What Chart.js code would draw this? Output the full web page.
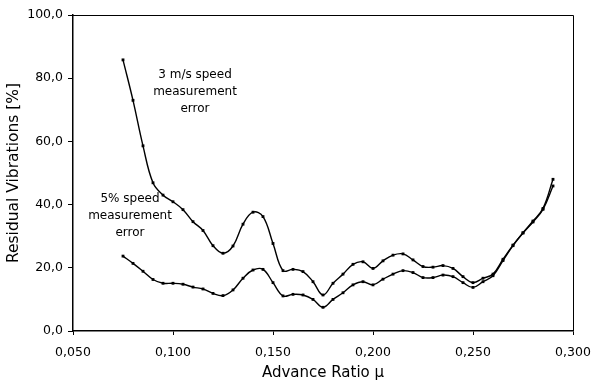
<!DOCTYPE html>
<html>
<head>
<meta charset="utf-8">
<script src="https://cdn.jsdelivr.net/npm/chart.js@4/dist/chart.umd.min.js"></script>
<style>
  html, body { margin: 0; padding: 0; background: #fff; }
  #wrap { width: 593px; height: 388px; }
</style>
</head>
<body>
<div id="wrap"><canvas id="c" width="593" height="388"></canvas></div>
<script>
// Advance ratio samples (x) and residual vibration levels in percent (y)
const advanceRatio = [0.075, 0.080, 0.085, 0.090, 0.095, 0.100, 0.105, 0.110, 0.115, 0.120,
  0.125, 0.130, 0.135, 0.140, 0.145, 0.150, 0.155, 0.160, 0.165, 0.170,
  0.175, 0.180, 0.185, 0.190, 0.195, 0.200, 0.205, 0.210, 0.215, 0.220,
  0.225, 0.230, 0.235, 0.240, 0.245, 0.250, 0.255, 0.260, 0.265, 0.270,
  0.275, 0.280, 0.285, 0.290];

const speedError3ms = [85.8, 73.0, 58.6, 46.9, 43.0, 40.9, 38.4, 34.6, 31.8, 27.0,
  24.6, 26.9, 33.8, 37.6, 36.2, 27.7, 19.1, 19.5, 18.8, 15.6,
  11.4, 15.1, 18.0, 21.1, 21.9, 19.8, 22.2, 24.0, 24.4, 22.5,
  20.4, 20.2, 20.7, 19.8, 17.2, 15.3, 16.7, 18.0, 22.7, 27.2,
  31.1, 34.8, 38.8, 48.0];

const speedError5pct = [23.7, 21.4, 18.9, 16.3, 15.1, 15.1, 14.8, 13.9, 13.3, 11.9,
  11.2, 13.0, 16.7, 19.3, 19.5, 15.3, 11.1, 11.6, 11.4, 10.0,
  7.5, 10.0, 12.1, 14.6, 15.6, 14.6, 16.4, 18.0, 19.1, 18.5,
  16.9, 16.9, 17.7, 17.2, 15.3, 13.8, 15.6, 17.5, 22.3, 27.0,
  31.0, 34.5, 38.5, 45.9];

// Curve annotations: text lines anchored at data coordinates
const curveNotes = [
  { x: 0.111, y: [81.0, 75.6, 70.4], lines: ['3 m/s speed', 'measurement', 'error'] },
  { x: 0.0785, y: [41.8, 36.4, 31.0], lines: ['5% speed', 'measurement', 'error'] }
];

const FONT = '"DejaVu Sans", "Liberation Sans", sans-serif';

const toPoints = (ys) => advanceRatio.map((x, i) => ({ x: x, y: ys[i] }));

// Frame around the plot area plus the curve labels
const framePlugin = {
  id: 'frameAndNotes',
  afterDraw(chart) {
    const { ctx, chartArea: a, scales } = chart;
    ctx.save();
    ctx.strokeStyle = '#000';
    ctx.lineWidth = 1;
    ctx.beginPath();
    ctx.moveTo(a.left, a.top + 0.5);
    ctx.lineTo(a.right + 0.5, a.top + 0.5);
    ctx.lineTo(a.right + 0.5, a.bottom);
    ctx.stroke();

    ctx.fillStyle = '#000';
    ctx.font = '12px ' + FONT;
    ctx.textAlign = 'center';
    ctx.textBaseline = 'middle';
    curveNotes.forEach(n => {
      const px = scales.x.getPixelForValue(n.x);
      n.lines.forEach((t, i) => {
        ctx.fillText(t, px, scales.y.getPixelForValue(n.y[i]));
      });
    });
    ctx.restore();
  }
};

const seriesStyle = {
  borderColor: '#000',
  backgroundColor: '#000',
  borderWidth: 1.4,
  pointStyle: 'rect',
  pointRadius: 2,
  pointBorderWidth: 0,
  tension: 0.4,
  fill: false
};

new Chart(document.getElementById('c'), {
  type: 'line',
  data: {
    datasets: [
      Object.assign({ label: '3 m/s speed measurement error', data: toPoints(speedError3ms) }, seriesStyle),
      Object.assign({ label: '5% speed measurement error', data: toPoints(speedError5pct) }, seriesStyle)
    ]
  },
  options: {
    responsive: false,
    animation: false,
    devicePixelRatio: 1,
    layout: { padding: { left: 0, right: 20, top: 15, bottom: 6 } },
    plugins: {
      legend: { display: false },
      tooltip: { enabled: false }
    },
    scales: {
      x: {
        type: 'linear',
        min: 0.05,
        max: 0.3,
        afterFit(scale) {
          scale.height = 51;
          scale.paddingLeft = 0;
          scale.paddingRight = 0;
        },
        ticks: {
          stepSize: 0.05,
          color: '#000',
          font: { family: FONT, size: 12.5 },
          padding: 10,
          maxRotation: 0,
          callback: v => v.toFixed(3).replace('.', ',')
        },
        grid: { display: true, drawOnChartArea: false, drawTicks: true, tickLength: 4, color: '#000' },
        border: { display: true, color: '#000', width: 1.5 },
        title: {
          display: true,
          text: 'Advance Ratio \u00b5',
          color: '#000',
          font: { family: FONT, size: 15 },
          padding: { top: 0, bottom: 0 }
        }
      },
      y: {
        min: 0,
        max: 100,
        afterFit(scale) {
          scale.width = 73;
          scale.paddingTop = 0;
          scale.paddingBottom = 0;
        },
        ticks: {
          stepSize: 20,
          color: '#000',
          font: { family: FONT, size: 12.5 },
          padding: 5,
          callback: v => v.toFixed(1).replace('.', ',')
        },
        grid: { display: true, drawOnChartArea: false, drawTicks: true, tickLength: 5, color: '#000' },
        border: { display: true, color: '#000', width: 1.5 },
        title: {
          display: true,
          text: 'Residual Vibrations [%]',
          color: '#000',
          font: { family: FONT, size: 15.5 },
          padding: { top: 5, bottom: 2 }
        }
      }
    }
  },
  plugins: [framePlugin]
});
</script>
</body>
</html>
